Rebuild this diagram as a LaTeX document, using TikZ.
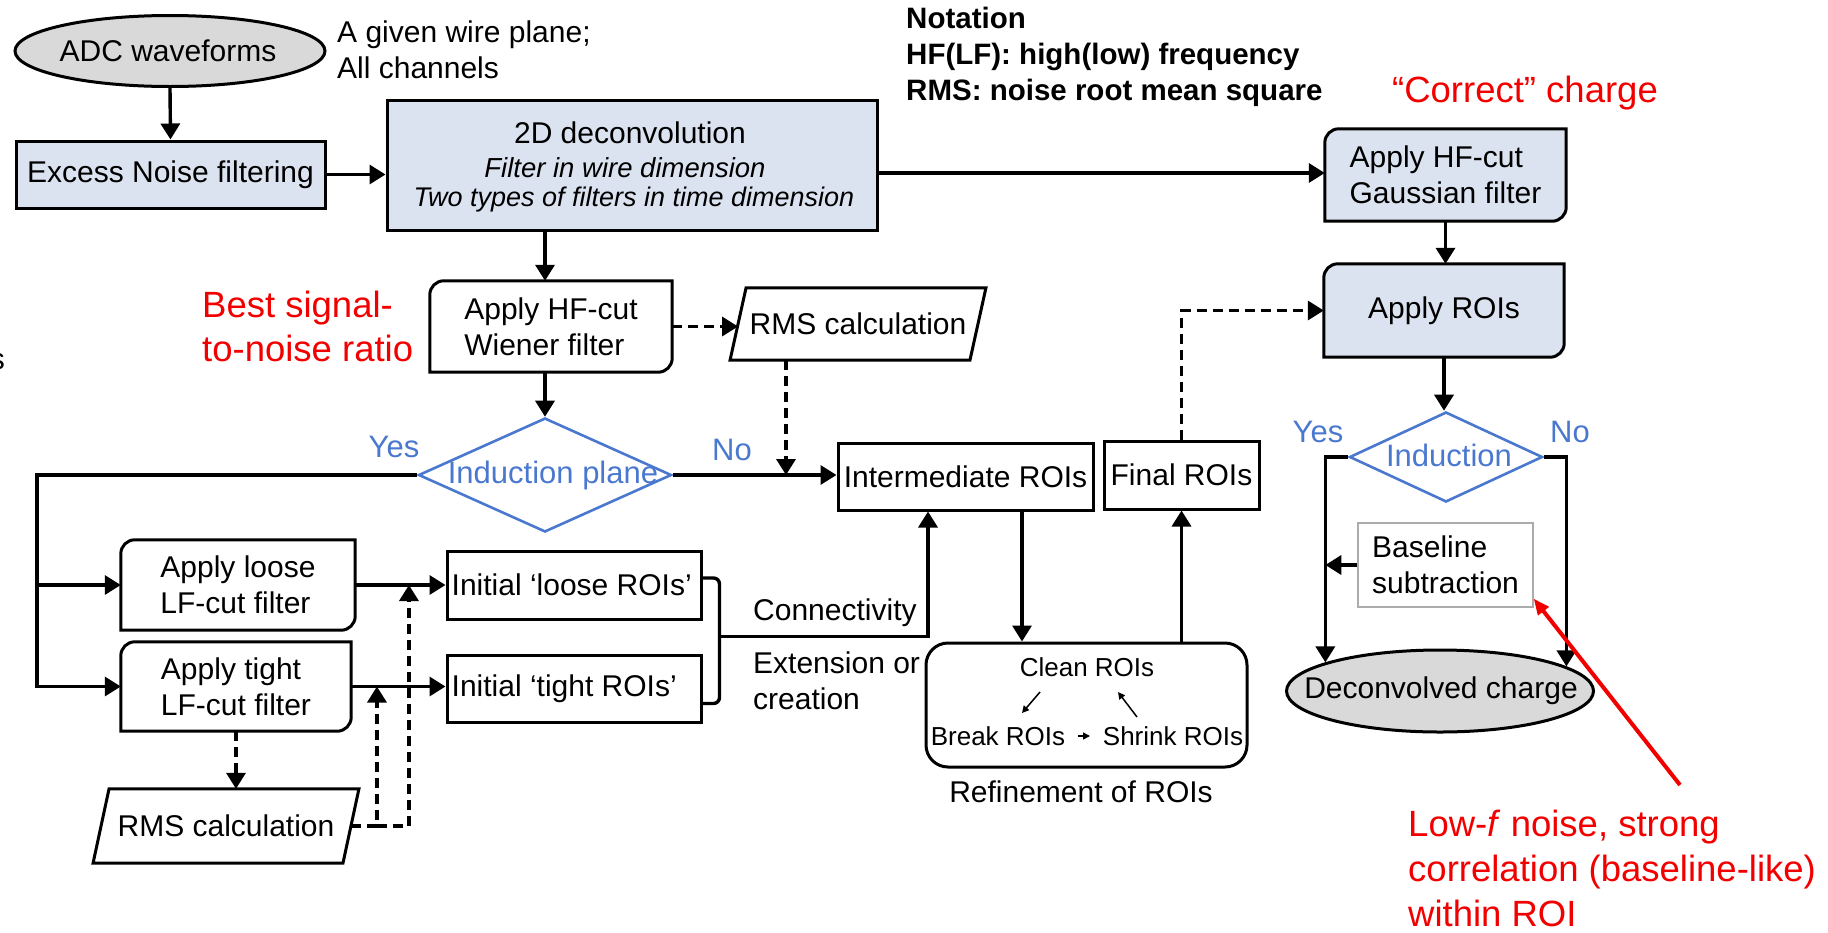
\documentclass[tikz,border=0pt]{standalone}
\usepackage{fontspec}
\setmainfont{Liberation Sans}
\usetikzlibrary{arrows.meta,shapes.geometric,backgrounds,calc}
\definecolor{boxblue}{HTML}{DCE3F0}
\definecolor{ovalgray}{HTML}{D9D9D9}
\definecolor{flowblue}{HTML}{4A78CF}
\definecolor{notered}{HTML}{F20000}
\newcommand\basefont{\fontsize{30pt}{36pt}\selectfont}
\newcommand\smallfont{\fontsize{26pt}{33pt}\selectfont}
\newcommand\bigfont{\fontsize{36.5pt}{44pt}\selectfont}
\newcommand\labelfont{\fontsize{31pt}{36pt}\selectfont}
% card: rounded top-left and bottom-right corners
\newcommand\cardframe[2]{%
  \filldraw[line width=3pt, fill=#2] (#1.south west) -- ([yshift=-14pt]#1.north west)
    arc[start angle=180,end angle=90,radius=14pt] -- (#1.north east)
    -- ([yshift=14pt]#1.south east) arc[start angle=0,end angle=-90,radius=14pt] -- cycle;}
% slanted data box
\newcommand\slantframe[2]{%
  \draw[line width=3pt] ([xshift=-#2]#1.south west) -- ([xshift=#2]#1.north west)
    -- ([xshift=#2]#1.north east) -- ([xshift=-#2]#1.south east) -- cycle;}
\begin{document}
\begin{tikzpicture}[x=1pt,y=1pt,
  box/.style={draw, line width=3pt, inner sep=0pt, font=\basefont, align=center},
  cardtext/.style={inner sep=0pt, font=\basefont, align=left},
  txt/.style={inner sep=0pt, font=\basefont},
  bluetxt/.style={inner sep=0pt, font=\labelfont, text=flowblue},
  redtxt/.style={inner sep=0pt, font=\bigfont, text=notered},
  decision/.style={diamond, draw=flowblue, line width=2.6pt, inner sep=0pt},
  oval/.style={ellipse, draw, fill=ovalgray, line width=3pt, inner sep=0pt},
  plain/.style={line width=3.4pt},
  flow/.style={line width=3.4pt, -{Triangle[length=16pt,width=19pt]}},
  dflow/.style={flow, dash pattern=on 10pt off 6pt},
  tiny/.style={line width=1.5pt, -{Triangle[length=7pt,width=7pt]}},
]
\useasboundingbox (0,0) rectangle (1828,-932);

% ---------- top row ----------
\node[oval, minimum width=310pt, minimum height=71pt] (adc) at (170,-51) {};
\node[txt] (adct) at (168,-51) {ADC waveforms};
\node[cardtext, anchor=west] (given) at (337,-49.5) {A given wire plane;\\All channels};
\node[box, fill=boxblue, minimum width=309pt, minimum height=67pt] (excess) at (170.5,-174.5) {Excess Noise filtering};

\node[box, fill=boxblue, minimum width=490pt, minimum height=130pt] (deconv) at (632,-165) {};
\node[txt] (deconv1) at (630,-133) {2D deconvolution};
\node[txt, font=\fontsize{27.5pt}{33pt}\selectfont\itshape] (deconv2) at (625,-168) {Filter in wire dimension};
\node[txt, font=\fontsize{27pt}{33pt}\selectfont\itshape] (deconv3) at (634,-200) {Two types of filters in time dimension};

\node[cardtext, anchor=west, font=\fontsize{29.5pt}{36pt}\selectfont\bfseries] (notation) at (906,-57)
  {Notation\\HF(LF): high(low) frequency\\RMS: noise root mean square};
\node[redtxt] (correct) at (1525,-93) {“Correct” charge};

\node[cardtext, minimum width=241pt, minimum height=92pt] (gauss) at (1445.5,-175) {Apply HF-cut\\Gaussian filter};

% ---------- middle ----------
\node[txt, anchor=east] (edge) at (5,-362) {s};
\node[redtxt, anchor=west, align=left] (best) at (202,-326.5) {Best signal-\\to-noise ratio};
\node[cardtext, minimum width=242pt, minimum height=91pt] (wiener) at (551,-326.5) {Apply HF-cut\\Wiener filter};
\node[txt, minimum width=239.5pt, minimum height=72pt] (rms1) at (858,-324) {RMS calculation};

\node[decision, minimum width=253pt, minimum height=114pt] (d1) at (545,-475) {};
\node[bluetxt] (d1t) at (553,-475) {Induction plane};
\node[bluetxt] (yes1) at (394,-447) {Yes};
\node[bluetxt] (no1) at (732,-450) {No};

\node[box, minimum width=255pt, minimum height=67pt] (inter) at (965.5,-476.5) {Intermediate ROIs};
\node[box, minimum width=155pt, minimum height=68pt] (final) at (1181.5,-475) {Final ROIs};

\node[cardtext, minimum width=240pt, minimum height=93pt] (applyroi) at (1444,-310.5) {Apply ROIs};
\node[decision, minimum width=193pt, minimum height=90pt] (d2) at (1446,-457) {};
\node[bluetxt] (d2t) at (1449,-455) {Induction};
\node[bluetxt] (yes2) at (1318,-432) {Yes};
\node[bluetxt] (no2) at (1570,-432) {No};

\node[draw=gray!65, line width=1.3pt, inner sep=0pt, font=\basefont, align=left,
      minimum width=175pt, minimum height=84pt] (baseline) at (1445.5,-565) {Baseline\\subtraction};
\node[oval, minimum width=307pt, minimum height=82pt] (deconvolved) at (1440,-691) {};
\node[txt] (deconvolvedt) at (1441,-691) {Deconvolved charge};

% ---------- lower left ----------
\node[cardtext, minimum width=234pt, minimum height=90pt] (loose) at (238,-585) {Apply loose\\LF-cut filter};
\node[cardtext, minimum width=230pt, minimum height=89pt] (tight) at (236,-686.5) {Apply tight\\LF-cut filter};
\node[box, minimum width=254pt, minimum height=68pt] (iloose) at (574,-585) {};
\node[txt, anchor=west] (iloosetext) at ([xshift=6pt]iloose.west) {Initial ‘loose ROIs’};
\node[box, minimum width=254pt, minimum height=67pt] (itight) at (574,-688.5) {};
\node[txt, anchor=west] (itighttext) at ([xshift=6pt]itight.west) {Initial ‘tight ROIs’};
\node[txt, minimum width=249.5pt, minimum height=74pt] (rms2) at (226,-826) {RMS calculation};

\node[txt, anchor=west] (conn) at (753,-613) {Connectivity};
\node[cardtext, anchor=west] (ext) at (753,-681) {Extension or\\creation};

% ---------- refinement ----------
\node[box, rounded corners=22pt, minimum width=321pt, minimum height=124pt] (refine) at (1086.5,-705) {};
\node[txt, font=\smallfont] (clean) at (1087,-667) {Clean ROIs};
\node[txt, font=\smallfont] (break) at (998,-736) {Break ROIs};
\node[txt, font=\smallfont] (shrink) at (1173,-736) {Shrink ROIs};
\node[txt] (refinet) at (1081,-792) {Refinement of ROIs};

\node[redtxt, anchor=west, align=left, font=\fontsize{36.5pt}{45pt}\selectfont] (lowf) at (1408,-868)
  {Low-\textit{f} noise, strong\\correlation (baseline-like)\\within ROI};
\coordinate (lowftip) at (1680,-785);

% ---------- frames ----------
\begin{pgfonlayer}{background}
  \cardframe{gauss}{boxblue}
  \cardframe{applyroi}{boxblue}
  \cardframe{wiener}{white}
  \cardframe{loose}{white}
  \cardframe{tight}{white}
\end{pgfonlayer}
\slantframe{rms1}{8pt}
\slantframe{rms2}{8pt}

% ---------- connectors ----------
\draw[flow] (adc.south) -- (excess.north);
\draw[flow] (excess.east) -- (excess.east -| deconv.west);
\draw[flow] ([yshift=2pt]gauss.west -| deconv.east) -- ([yshift=2pt]gauss.west);
\draw[flow] (deconv.south -| d1.north) -- (wiener.north -| d1.north);
\draw[flow] (gauss.south) -- (gauss.south |- applyroi.north);
\draw[flow] (wiener.south -| d1.north) -- (d1.north);
\draw[dflow] (wiener.east) -- (wiener.east -| rms1.west);
\coordinate (dropA) at ([xshift=-72pt]rms1.south);
\draw[dflow] (dropA) -- (dropA |- d1.east);
\draw[flow] (d1.east) -- (d1.east -| inter.west);

\coordinate (trunk) at (37,-475);
\draw[flow] (d1.west) -- (trunk) |- (tight.west);
\draw[flow] (trunk |- loose.west) -- (loose.west);
\draw[flow] (loose.east) -- (loose.east -| iloose.west);
\draw[flow] (tight.east) -- (tight.east -| itight.west);

% bracket joining the two initial ROI sets
\draw[plain, rounded corners=6pt] ([yshift=7pt]iloose.east) -- ++(17,0) |- ([yshift=-15pt]itight.east);
\coordinate (join) at ($([xshift=17pt]iloose.east)!0.5!([xshift=17pt]itight.east)$);
\coordinate (interin) at ([xshift=-37.5pt]inter.south);
\draw[flow] (join) -| (interin);
\coordinate (interout) at ([xshift=56.5pt]inter.south);
\draw[flow] (interout) -- (interout |- refine.north);
\draw[flow] (refine.north -| final.south) -- (final.south);
\draw[dflow] (final.north) -- (final.north |- applyroi.west) -- (applyroi.west);

\draw[flow] (applyroi.south) -- (applyroi.south |- d2.north);
\draw[flow] (d2.west) -| (deconvolved.166.9);
\draw[flow] (d2.east) -| (deconvolved.11.8);
\draw[flow] (baseline.west) -- (baseline.west -| deconvolved.166.9);

\draw[dflow] (tight.south) -- (tight.south |- rms2.north);
\coordinate (fbA) at ($(rms2.east)+(26,0)$);
\coordinate (fbB) at ($(rms2.east)+(58,0)$);
\draw[dflow] (rms2.east) -- (fbA) -- (fbA |- tight.east);
\draw[dflow] (fbA) -- (fbB) -- (fbB |- loose.east);

% steps inside the refinement loop
\draw[tiny] ($(clean)+(-47,-25)$) -- ($(break)+(24,23)$);
\draw[tiny] ($(shrink)+(-36,19)$) -- ($(clean)+(31,-25)$);
\draw[tiny] ($(break)+(80,0)$) -- ($(shrink)+(-83,0)$);

% annotation pointer
\draw[line width=4pt, draw=notered, -{Triangle[length=16pt,width=13pt]}] (lowftip) -- ([yshift=9pt]baseline.south east);
\end{tikzpicture}
\end{document}
